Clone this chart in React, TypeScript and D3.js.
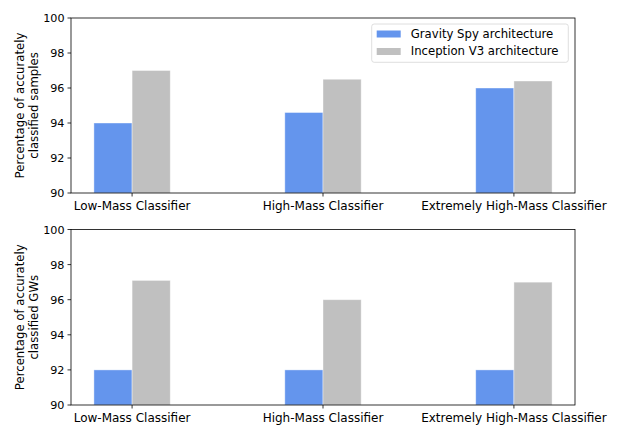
import * as d3 from "d3";
import React from "react";

const categories = ["Low-Mass Classifier", "High-Mass Classifier", "Extremely High-Mass Classifier"];
const seriesNames = ["Gravity Spy architecture", "Inception V3 architecture"];
const seriesColors = ["#6495ED", "#C0C0C0"];

// top panel: accurately classified samples
const samplesGravitySpy = [94.0, 94.6, 96.0];
const samplesInception = [97.0, 96.5, 96.4];

// bottom panel: accurately classified GWs
const gwsGravitySpy = [92.0, 92.0, 92.0];
const gwsInception = [97.1, 96.0, 97.0];

const yTicks = [90, 92, 94, 96, 98, 100];

const W = 623, H = 436;
const FONT = "DejaVu Sans, sans-serif";
const FS = 11.7;
const FS_X = 12;
const FS_Y = 11.2;
const barW = 0.2;

type PanelProps = {
  top: number;
  bottom: number;
  series: number[][];
  label: string[];
  legend?: boolean;
};

const left = 71, right = 575;

const Panel = ({top, bottom, series, label, legend}: PanelProps) => {
  const x = d3.scaleLinear().domain([-0.32, 2.32]).range([left, right]);
  const y = d3.scaleLinear().domain([90, 100]).range([bottom, top]);
  const midY = (top + bottom) / 2;
  return (
    <g>
      {series.map((vals, s) =>
        vals.map((v, i) => {
          const x0 = x(i + (s === 0 ? -barW : 0));
          const x1 = x(i + (s === 0 ? 0 : barW));
          return (
            <rect key={`${s}-${i}`} x={x0} y={y(v)} width={x1 - x0} height={y(90) - y(v)}
              fill={seriesColors[s]} stroke="#ffffff" strokeOpacity={0.5} strokeWidth={0.8} />
          );
        })
      )}
      <rect x={left} y={top} width={right - left} height={bottom - top} fill="none" stroke="#000" strokeWidth={0.8} />
      {yTicks.map((t) => (
        <g key={t}>
          <line x1={left - 3.5} x2={left} y1={y(t)} y2={y(t)} stroke="#000" strokeWidth={0.8} />
          <text x={left - 6.5} y={y(t)} dy="0.36em" textAnchor="end" fontSize={FS_Y} fontFamily={FONT}>{t}</text>
        </g>
      ))}
      {categories.map((c, i) => (
        <g key={c}>
          <line x1={x(i)} x2={x(i)} y1={bottom} y2={bottom + 3.5} stroke="#000" strokeWidth={0.8} />
          <text x={x(i)} y={bottom + 16.5} textAnchor="middle" fontSize={FS_X} fontFamily={FONT}>{c}</text>
        </g>
      ))}
      <text transform={`translate(24,${midY}) rotate(-90)`} textAnchor="middle" fontSize={FS} fontFamily={FONT}>
        <tspan x={0} y={0}>{label[0]}</tspan>
        <tspan x={0} y={14}>{label[1]}</tspan>
      </text>
      {legend && (
        <g>
          <rect x={371.7} y={24} width={196.6} height={38.3} rx={2.5} fill="#fff" fillOpacity={0.8} stroke="#d6d6d6" strokeWidth={0.8} />
          {seriesNames.map((n, k) => (
            <g key={n}>
              <rect x={376.7} y={30.5 + k * 17.5} width={24} height={7} fill={seriesColors[k]} />
              <text x={410.7} y={37.8 + k * 17.5} fontSize={FS} fontFamily={FONT}>{n}</text>
            </g>
          ))}
        </g>
      )}
    </g>
  );
};

export default function App() {
  return (
    <svg width={W} height={H} style={{position: "absolute", left: 0, top: 0, background: "#fff"}}>
      <rect width={W} height={H} fill="#fff" />
      <Panel top={18} bottom={193} series={[samplesGravitySpy, samplesInception]}
        label={["Percentage of accurately", "classified samples"]} legend />
      <Panel top={229.5} bottom={405} series={[gwsGravitySpy, gwsInception]}
        label={["Percentage of accurately", "classified GWs"]} />
    </svg>
  );
}
